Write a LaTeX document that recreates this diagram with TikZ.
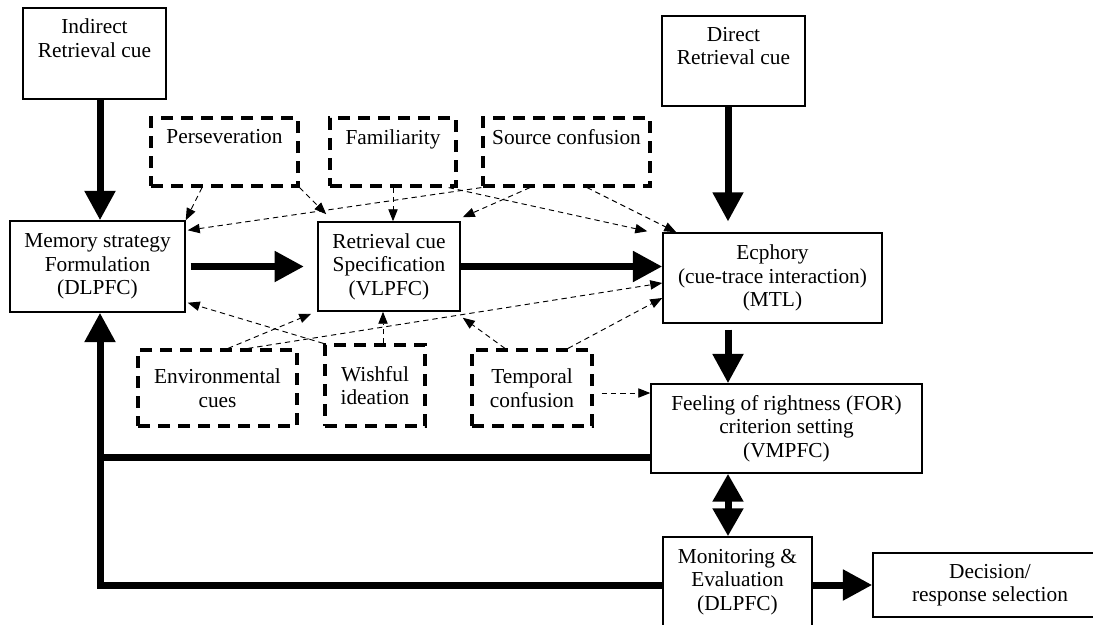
\documentclass[tikz,border=0pt]{standalone}
\usepackage{fontspec}
\setmainfont{Liberation Serif}
\usetikzlibrary{calc,arrows.meta}

\tikzset{
  solidbox/.style={draw,line width=1.1pt,align=center,inner sep=0pt},
  dashbox/.style={draw,line width=2.4pt,dash pattern=on 9pt off 6pt,align=center,inner sep=0pt},
  bigline/.style={line width=5.25pt},
  bigarrow/.style={line width=5.25pt,-{Triangle[length=22pt,width=22pt]}},
  bigboth/.style={line width=5.25pt,{Triangle[length=21pt,width=22pt]}-{Triangle[length=21pt,width=22pt]}},
  thinarrow/.style={line width=0.7pt,dash pattern=on 4pt off 3pt,-{Triangle[length=9pt,width=7pt]}}
}

\begin{document}
\begin{tikzpicture}[x=0.75pt,y=-0.75pt,font=\fontsize{16}{17.6}\selectfont]
  \useasboundingbox (0,0) rectangle (1093,625);
  % main boxes
  \node[solidbox,minimum width=107.25pt,minimum height=68.25pt] (ind) at (94.5,53.5) {Indirect\\Retrieval cue\\\strut};
  \node[solidbox,minimum width=107.25pt,minimum height=67.5pt] (dir) at (733.5,61) {Direct\\Retrieval cue\\\strut};
  \node[solidbox,minimum width=131.25pt,minimum height=68.25pt] (mem) at (97.5,266.5) {Memory strategy\\Formulation\\(DLPFC)};
  \node[solidbox,minimum width=106.5pt,minimum height=66.75pt] (ret) at (389,266.5) {Retrieval cue\\Specification\\(VLPFC)};
  \node[solidbox,minimum width=164.25pt,minimum height=67.5pt] (ecp) at (772.5,278) {Ecphory\\(cue-trace interaction)\\(MTL)};
  \node[solidbox,minimum width=203.25pt,minimum height=66.75pt] (forb) at (786.5,428.5) {Feeling of rightness (FOR)\\criterion setting\\(VMPFC)};
  \node[solidbox,minimum width=111.75pt,minimum height=67.5pt] (mon) at (737.5,582) {Monitoring \&\\Evaluation\\(DLPFC)};
  \node[solidbox,minimum width=175.5pt,minimum height=48pt] (dec) at (990,585) {Decision/\\response selection};
  % distorting influences
  \node[dashbox,minimum width=110.25pt,minimum height=51pt] (per) at (224.5,152) {Perseveration\\\strut};
  \node[dashbox,minimum width=94.5pt,minimum height=51pt] (fam) at (393,152) {Familiarity\\\strut};
  \node[dashbox,minimum width=125.25pt,minimum height=51pt] (src) at (566.5,152) {Source confusion\\\strut};
  \node[dashbox,minimum width=119.25pt,minimum height=57pt] (env) at (217.5,388) {Environmental\\cues};
  \node[dashbox,minimum width=75pt,minimum height=60.75pt] (wis) at (375,385.5) {Wishful\\ideation};
  \node[dashbox,minimum width=90pt,minimum height=57pt] (tem) at (532,388) {Temporal\\confusion};

  % main flow
  \coordinate (ia) at ($(ind.south)+(5.5,0)$);
  \draw[bigarrow] (ia) -- (ia |- mem.north);
  \draw[bigarrow,shorten <=3.75pt,shorten >=10pt] (mem.east) -- (mem.east -| ret.west);
  \draw[bigarrow] (ret.east) -- (ret.east -| ecp.west);
  \coordinate (da) at ($(dir.south)+(-5.5,0)$);
  \draw[bigarrow,shorten >=8pt] (da) -- (da |- ecp.north);
  \coordinate (ea) at ($(ecp.south)+(-44.5,0)$);
  \draw[bigarrow,shorten <=4.5pt] (ea) -- (ea |- forb.north);
  \coordinate (fa) at ($(forb.south)+(-58.5,0)$);
  \draw[bigboth] (fa) -- (fa |- mon.north);
  \draw[bigarrow] (mon.east |- dec.west) -- (dec.west);
  % feedback to strategy
  \coordinate (fb) at ($(mem.south)+(2.5,0)$);
  \coordinate (fl) at ($(forb.south west)+(0,-16)$);
  \draw[bigline] (fl) -- (fl -| fb);
  \draw[bigarrow] (mon.west |- dec.west) -| (fb);

  % dashed influences
  \draw[thinarrow] ($(per.south)+(-22.5,0)$) -- (mem.north east);
  \draw[thinarrow] (per.south east) -- ($(ret.north west)+(9,-7)$);
  \draw[thinarrow] (src.south west) -- ($(mem.north east)+(2,10)$);
  \draw[thinarrow] (fam.south) -- (fam.south |- ret.north);
  \draw[thinarrow] ($(fam.south east)+(-9,0)$) -- ($(ecp.north west)+(-15,-1)$);
  \draw[thinarrow] ($(src.south)+(-36.5,0)$) -- ($(ret.north east)+(2,-4)$);
  \draw[thinarrow] ($(src.south)+(20.5,0)$) -- ($(ecp.north west)+(14,0)$);
  \draw[thinarrow] ($(env.north)+(10.5,0)$) -- ($(ret.south west)+(-6,2)$);
  \draw[thinarrow] ($(env.north)+(30.5,0)$) -- ($(ecp.west)+(0,5)$);
  \draw[thinarrow] (wis.north west) -- ($(mem.south east)+(2,-10)$);
  \coordinate (wa) at ($(wis.north)+(8,0)$);
  \draw[thinarrow] (wa) -- (wa |- ret.south);
  \draw[thinarrow] ($(tem.north)+(-27,0)$) -- ($(ret.south east)+(2,6)$);
  \draw[thinarrow] ($(tem.north)+(36,0)$) -- ($(ecp.west)+(0,20)$);
  \coordinate (ta) at ($(tem.east)+(8,5)$);
  \draw[thinarrow] (ta) -- (ta -| forb.west);
\end{tikzpicture}
\end{document}
